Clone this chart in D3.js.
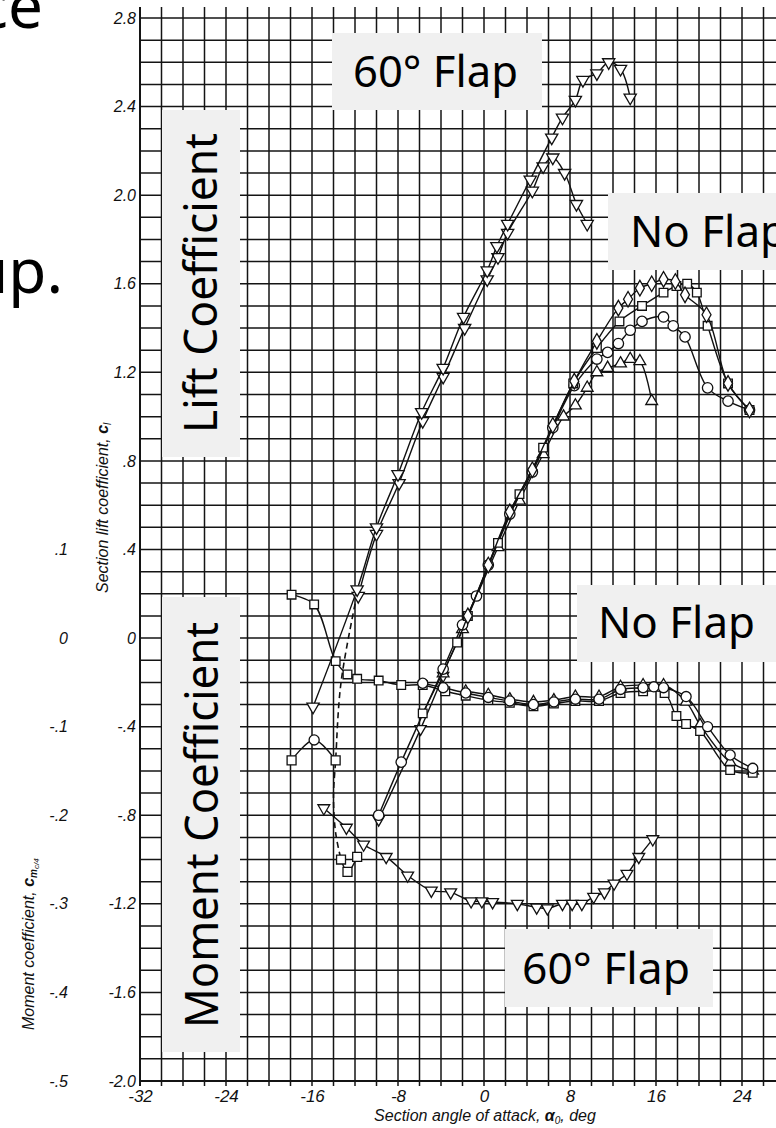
<!DOCTYPE html>
<html>
<head>
<meta charset="utf-8">
<script src="https://cdn.jsdelivr.net/npm/d3@7"></script>
<style>
  body { margin: 0; background: #fff; }
  svg { display: block; }
</style>
</head>
<body>
<svg id="vis" width="776" height="1128"></svg>
<script>
// Ticks y etiquetas
const xTicks = [-32, -24, -16, -8, 0, 8, 16, 24];
const liftTicks = [2.8, 2.4, 2.0, 1.6, 1.2, 0.8, 0.4, 0, -0.4, -0.8, -1.2, -1.6, -2.0];
const liftLabels = ["2.8", "2.4", "2.0", "1.6", "1.2", ".8", ".4", "0", "-.4", "-.8", "-1.2", "-1.6", "-2.0"];
const momTicks = [0.1, 0, -0.1, -0.2, -0.3, -0.4, -0.5];
const momLabels = [".1", "0", "-.1", "-.2", "-.3", "-.4", "-.5"];

// Sustentacion, flap 60 (alfa, cl)
const flap60LiftA = [[-15.9,-0.31],[-11.8,0.22],[-10.0,0.50],[-8.0,0.74],[-5.8,1.02],[-3.8,1.22],[-1.9,1.45],[0.3,1.66],[1.2,1.77],[2.2,1.87],[4.3,2.07],[6.3,2.26],[7.3,2.35],[8.5,2.43],[9.2,2.52],[10.5,2.55],[11.6,2.60],[12.7,2.57],[13.6,2.44]];
const flap60LiftB = [[-11.7,0.19],[-10.0,0.47],[-7.9,0.70],[-5.7,0.98],[-3.8,1.18],[-1.8,1.40],[0.3,1.62],[1.3,1.72],[2.2,1.83],[4.5,2.02],[5.5,2.13],[6.4,2.17],[7.5,2.10],[8.6,1.96],[9.6,1.87]];

// Sustentacion, sin flap
const nfLiftCircle = [[-9.8,-0.80],[-7.7,-0.56],[-3.8,-0.14],[-2.0,0.06],[-0.7,0.19],[0.4,0.33],[2.4,0.56],[4.5,0.75],[6.4,0.95],[8.4,1.14],[10.5,1.26],[11.5,1.29],[12.5,1.33],[13.6,1.39],[14.7,1.43],[16.7,1.45],[17.6,1.41],[18.7,1.36],[20.8,1.13],[22.7,1.07],[24.7,1.03]];
const nfLiftSquare = [[-5.7,-0.34],[-2.5,-0.02],[-1.5,0.10],[1.3,0.43],[3.3,0.65],[5.5,0.86],[8.3,1.15],[10.5,1.31],[12.6,1.43],[14.7,1.50],[16.7,1.56],[17.9,1.59],[18.9,1.60],[19.8,1.56],[20.8,1.41],[22.7,1.15],[24.7,1.03]];
const nfLiftDiamond = [[-1.5,0.10],[0.4,0.33],[2.4,0.57],[4.5,0.76],[6.4,0.96],[8.4,1.16],[10.5,1.34],[12.5,1.49],[13.4,1.53],[14.5,1.58],[15.6,1.60],[16.7,1.62],[17.8,1.61],[18.7,1.55],[20.7,1.46],[22.7,1.15],[24.7,1.03]];
const nfLiftTriUp = [[-3.8,-0.16],[-2.0,0.04],[1.3,0.41],[3.3,0.62],[5.5,0.83],[7.4,1.00],[8.5,1.05],[9.6,1.13],[10.5,1.20],[11.5,1.22],[12.7,1.24],[13.6,1.26],[14.5,1.25],[15.6,1.07]];
const nfLiftTriDown = [[-9.8,-0.82],[-5.9,-0.41],[-3.8,-0.17]];

// Momento, sin flap (alfa, cm)
const nfMomCircle = [[-5.7,-0.051],[-3.8,-0.056],[-1.7,-0.062],[0.4,-0.067],[2.4,-0.071],[4.6,-0.075],[6.5,-0.072],[8.5,-0.069],[10.7,-0.069],[12.7,-0.058],[14.8,-0.056],[15.8,-0.055],[16.7,-0.056],[18.8,-0.066],[20.8,-0.100],[22.9,-0.132],[25.0,-0.147]];
const nfMomSquare = [[-17.9,0.049],[-15.8,0.038],[-13.8,-0.026],[-12.7,-0.041],[-11.8,-0.046],[-9.8,-0.048],[-7.7,-0.053],[-5.7,-0.053],[-3.6,-0.060],[-1.7,-0.065],[0.4,-0.070],[2.4,-0.073],[4.6,-0.077],[6.5,-0.074],[8.5,-0.071],[10.7,-0.071],[12.7,-0.062],[14.8,-0.060],[16.8,-0.062],[17.9,-0.088],[18.8,-0.097],[20.1,-0.105],[22.9,-0.149],[25.0,-0.152]];
const nfMomDiamond = [[-1.7,-0.060],[0.4,-0.064],[2.4,-0.069],[4.6,-0.072],[6.5,-0.070],[8.5,-0.066],[10.7,-0.066],[12.7,-0.055],[14.8,-0.053],[16.7,-0.053],[18.8,-0.072],[20.1,-0.098],[22.9,-0.140],[25.0,-0.150]];

// Momento, flap 60
const flap60Mom = [[-14.9,-0.192],[-12.8,-0.214],[-11.2,-0.233],[-9.1,-0.247],[-7.1,-0.268],[-4.9,-0.285],[-3.1,-0.287],[-1.2,-0.297],[-0.2,-0.297],[0.8,-0.298],[3.1,-0.300],[4.9,-0.304],[5.9,-0.305],[7.3,-0.300],[8.2,-0.300],[9.1,-0.300],[10.2,-0.292],[11.2,-0.287],[12.1,-0.277],[13.3,-0.266],[14.4,-0.247],[15.7,-0.227]];
const stallArc = [[-17.9,-0.138],[-15.8,-0.115],[-13.8,-0.138]];
const stallSquares = [[-13.3,-0.250],[-12.7,-0.264],[-11.8,-0.247]];
// Linea punteada (en unidades de cl)
const dashedPath = [[-11.8,0.20],[-13.3,-0.20],[-13.8,-0.55],[-14.0,-0.72],[-13.8,-0.88],[-13.3,-1.00]];

// Etiquetas superpuestas
const boxes = [
  { text: "60° Flap", x: 332, y: 33, w: 210, h: 77, tx: 353, ty: 87, tl: 165 },
  { text: "No Flap", x: 608, y: 193, w: 200, h: 77, tx: 630, ty: 247, tl: 157 },
  { text: "No Flap", x: 577, y: 585, w: 220, h: 77, tx: 598, ty: 638, tl: 157 },
  { text: "60° Flap", x: 505, y: 929, w: 208, h: 78, tx: 522, ty: 984, tl: 168 }
];

const SVG = d3.select("#vis");

const x = d3.scaleLinear().domain([-32, 32]).range([140, 828]);
const yL = d3.scaleLinear().domain([-2.0, 2.8]).range([1081, 18]);
const yM = d3.scaleLinear().domain([-0.5, 0.7]).range([1081, 18]);

// Grilla
const grid = SVG.append("g").attr("stroke", "#141414");
grid.selectAll("line.v")
  .data(d3.range(-32, 34, 2))
  .join("line")
  .attr("class", "v")
  .attr("x1", d => x(d)).attr("x2", d => x(d))
  .attr("y1", yL(2.85)).attr("y2", yL(-2.0) + 5)
  .attr("stroke-width", d => d === -32 ? 2 : 1.5);
grid.selectAll("line.h")
  .data(d3.range(-20, 29).map(d => d / 10))
  .join("line")
  .attr("class", "h")
  .attr("x1", x(-32)).attr("x2", 776)
  .attr("y1", d => yL(d)).attr("y2", d => yL(d))
  .attr("stroke-width", d => Math.abs(d + 2) < 1e-6 ? 2 : 1.5);

// Ejes
const fuenteEje = "'Liberation Sans', Arial, sans-serif";

const ejeL = SVG.append("g")
  .attr("transform", `translate(${x(-32)},0)`)
  .call(d3.axisLeft(yL).tickValues(liftTicks).tickSize(0).tickPadding(4)
    .tickFormat((d, i) => liftLabels[i]));
ejeL.select(".domain").remove();
ejeL.selectAll("text").attr("font-family", fuenteEje).attr("font-style", "italic")
  .attr("font-size", 16).attr("fill", "#111");

const ejeM = SVG.append("g")
  .attr("transform", "translate(68,0)")
  .call(d3.axisLeft(yM).tickValues(momTicks).tickSize(0).tickPadding(0)
    .tickFormat((d, i) => momLabels[i]));
ejeM.select(".domain").remove();
ejeM.selectAll("text").attr("font-family", fuenteEje).attr("font-style", "italic")
  .attr("font-size", 16).attr("fill", "#111");

const ejeX = SVG.append("g")
  .attr("transform", `translate(0,${yL(-2.0)})`)
  .call(d3.axisBottom(x).tickValues(xTicks).tickSize(0).tickPadding(9)
    .tickFormat(d => d));
ejeX.select(".domain").remove();
ejeX.selectAll("text").attr("font-family", fuenteEje).attr("font-style", "italic")
  .attr("font-size", 17).attr("fill", "#111");

// Titulos de ejes
const tx = SVG.append("text")
  .attr("x", 485).attr("y", 1121)
  .attr("text-anchor", "middle")
  .attr("font-family", fuenteEje).attr("font-style", "italic")
  .attr("font-size", 16).attr("fill", "#111");
tx.append("tspan").text("Section angle of attack, ");
tx.append("tspan").attr("font-weight", "bold").text("α");
tx.append("tspan").attr("font-size", 10).attr("dy", 3).text("0");
tx.append("tspan").attr("dy", -3).text(", deg");

const tL = SVG.append("text")
  .attr("transform", "translate(108,593) rotate(-90)")
  .attr("font-family", fuenteEje).attr("font-style", "italic")
  .attr("font-size", 16).attr("fill", "#111");
tL.append("tspan").text("Section lift coefficient, ");
tL.append("tspan").attr("font-weight", "bold").text("c");
tL.append("tspan").attr("font-size", 10).attr("dy", 3).text("l");

const tM = SVG.append("text")
  .attr("transform", "translate(34,1030) rotate(-90)")
  .attr("font-family", fuenteEje).attr("font-style", "italic")
  .attr("font-size", 16).attr("fill", "#111");
tM.append("tspan").text("Moment coefficient, ");
tM.append("tspan").attr("font-weight", "bold").text("c");
tM.append("tspan").attr("font-size", 10).attr("dy", 3).attr("font-weight", "bold").text("m");
tM.append("tspan").attr("font-size", 8).attr("dy", 2).text("c/4");

// Series
const plot = SVG.append("g");

function serie(datos, escala, simbolo, opciones = {}) {
  const linea = d3.line()
    .x(d => x(d[0]))
    .y(d => escala(d[1]))
    .curve(d3.curveCatmullRom.alpha(0.5));
  plot.append("path")
    .datum(datos)
    .attr("d", linea)
    .attr("fill", "none")
    .attr("stroke", "#111")
    .attr("stroke-width", opciones.ancho || 1.4)
    .attr("stroke-dasharray", opciones.dash || null);
  if (!simbolo) return;
  const tam = opciones.tam || 70;
  plot.selectAll(null)
    .data(datos)
    .join("path")
    .attr("d", d3.symbol().type(simbolo).size(tam))
    .attr("transform", d => `translate(${x(d[0])},${escala(d[1])})` + (opciones.rot ? ` rotate(${opciones.rot})` : ""))
    .attr("fill", "#fff")
    .attr("stroke", "#111")
    .attr("stroke-width", 1.3);
}

// Punteada y curvas de perdida
serie(dashedPath, yL, null, { dash: "6,4", ancho: 1.6 });
serie(stallArc, yM, null);
plot.selectAll(null).data(stallArc).join("path")
  .attr("d", (d, i) => d3.symbol().type(i === 1 ? d3.symbolCircle : d3.symbolSquare).size(80)())
  .attr("transform", d => `translate(${x(d[0])},${yM(d[1])})`)
  .attr("fill", "#fff").attr("stroke", "#111").attr("stroke-width", 1.3);
serie(stallSquares, yM, d3.symbolSquare, { tam: 80 });

// Momento
serie(flap60Mom, yM, d3.symbolTriangle, { rot: 180, tam: 60 });
serie(nfMomDiamond, yM, d3.symbolTriangle, { tam: 55 });
serie(nfMomSquare, yM, d3.symbolSquare, { tam: 75 });
serie(nfMomCircle, yM, d3.symbolCircle, { tam: 80 });

// Sustentacion
serie(nfLiftTriDown, yL, d3.symbolTriangle, { rot: 180, tam: 55 });
serie(nfLiftTriUp, yL, d3.symbolTriangle, { tam: 60 });
serie(nfLiftCircle, yL, d3.symbolCircle, { tam: 85 });
serie(nfLiftSquare, yL, d3.symbolSquare, { tam: 75 });
serie(nfLiftDiamond, yL, d3.symbolDiamond, { tam: 70 });
serie(flap60LiftB, yL, d3.symbolTriangle, { rot: 180, tam: 65 });
serie(flap60LiftA, yL, d3.symbolTriangle, { rot: 180, tam: 65 });

// Cajas grises con etiquetas
const fuenteCaja = "'Noto Sans', 'Open Sans', sans-serif";
const cajas = SVG.append("g");
cajas.selectAll("rect")
  .data(boxes)
  .join("rect")
  .attr("x", d => d.x).attr("y", d => d.y)
  .attr("width", d => d.w).attr("height", d => d.h)
  .attr("fill", "#f0f0f0");
cajas.selectAll("text")
  .data(boxes)
  .join("text")
  .attr("x", d => d.tx).attr("y", d => d.ty)
  .attr("textLength", d => d.tl).attr("lengthAdjust", "spacingAndGlyphs")
  .attr("font-family", fuenteCaja).attr("font-size", 44).attr("fill", "#000")
  .text(d => d.text);

// Cajas verticales
cajas.append("rect").attr("x", 162).attr("y", 110).attr("width", 78).attr("height", 347).attr("fill", "#f0f0f0");
cajas.append("rect").attr("x", 162).attr("y", 597).attr("width", 78).attr("height", 455).attr("fill", "#f0f0f0");
cajas.append("text")
  .attr("transform", "translate(217,433) rotate(-90)")
  .attr("textLength", 300).attr("lengthAdjust", "spacingAndGlyphs")
  .attr("font-family", fuenteCaja).attr("font-size", 45).attr("fill", "#000")
  .text("Lift Coefficient");
cajas.append("text")
  .attr("transform", "translate(218,1028) rotate(-90)")
  .attr("textLength", 406).attr("lengthAdjust", "spacingAndGlyphs")
  .attr("font-family", fuenteCaja).attr("font-size", 45).attr("fill", "#000")
  .text("Moment Coefficient");

// Texto cortado de la diapositiva
SVG.append("text").attr("x", 43).attr("y", 28).attr("text-anchor", "end")
  .attr("font-family", fuenteCaja).attr("font-size", 62).attr("fill", "#000").text("ce");
SVG.append("text").attr("x", 63).attr("y", 293).attr("text-anchor", "end")
  .attr("font-family", fuenteCaja).attr("font-size", 62).attr("fill", "#000").text("up.");
</script>
</body>
</html>
